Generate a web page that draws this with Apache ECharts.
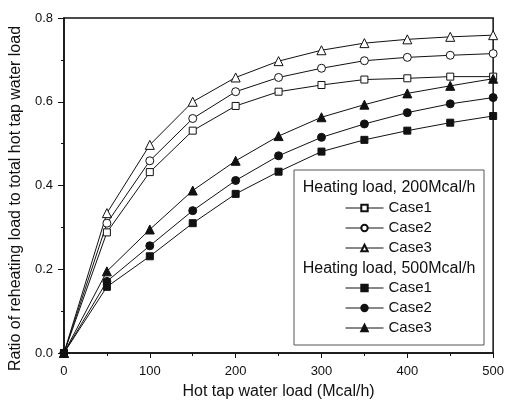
<!DOCTYPE html>
<html>
<head>
<meta charset="utf-8">
<script src="https://cdn.jsdelivr.net/npm/echarts@6/dist/echarts.min.js"></script>
<style>
  html, body { margin: 0; padding: 0; background: #fff; }
  #chart { width: 507px; height: 405px; }
</style>
</head>
<body>
<div id="chart"></div>
<script>
// hot tap water load (Mcal/h)
const loads = [0, 50, 100, 150, 200, 250, 300, 350, 400, 450, 500];

// heating load 200 Mcal/h (open markers)
const h200Case1 = [0, 0.288, 0.432, 0.531, 0.590, 0.624, 0.640, 0.653, 0.656, 0.660, 0.660];
const h200Case2 = [0, 0.310, 0.459, 0.560, 0.624, 0.658, 0.680, 0.698, 0.706, 0.711, 0.715];
const h200Case3 = [0, 0.334, 0.497, 0.600, 0.658, 0.697, 0.723, 0.740, 0.749, 0.755, 0.759];

// heating load 500 Mcal/h (filled markers)
const h500Case1 = [0, 0.158, 0.231, 0.310, 0.380, 0.433, 0.481, 0.509, 0.531, 0.550, 0.566];
const h500Case2 = [0, 0.171, 0.256, 0.340, 0.412, 0.471, 0.515, 0.547, 0.574, 0.595, 0.610];
const h500Case3 = [0, 0.195, 0.295, 0.388, 0.459, 0.518, 0.563, 0.593, 0.620, 0.638, 0.655];

const legendTitles = ['Heating load, 200Mcal/h', 'Heating load, 500Mcal/h'];
const caseNames = ['Case1', 'Case2', 'Case3'];

const ink = '#111';
const font = '"Liberation Sans", Arial, sans-serif';

function pairs(ys) {
  return loads.map((x, i) => [x, ys[i]]);
}

function mkSeries(name, ys, symbol, size, filled) {
  return {
    name: name,
    type: 'line',
    data: pairs(ys),
    symbol: symbol,
    symbolSize: size,
    showAllSymbol: true,
    lineStyle: { color: ink, width: 1 },
    itemStyle: { color: filled ? ink : '#fff', borderColor: ink, borderWidth: 1 },
    emphasis: { disabled: true },
    z: filled ? 3 : 2
  };
}

function mkLegend(top, names) {
  return {
    orient: 'vertical', left: 345, top: top, padding: 0,
    itemWidth: 38, itemHeight: 8, itemGap: 5,
    lineStyle: { width: 1 },
    textStyle: { fontSize: 15, color: ink, fontFamily: font },
    data: names,
    formatter: n => n.split(' ')[0],
    selectedMode: false
  };
}

const chart = echarts.init(document.getElementById('chart'));

const option = {
  backgroundColor: '#fff',
  animation: false,
  textStyle: { fontFamily: font },
  grid: {
    left: 62, right: 10, top: 18, bottom: 52,
    show: true, borderColor: ink, borderWidth: 1.5
  },
  xAxis: {
    type: 'value',
    min: 0, max: 500, interval: 100,
    name: 'Hot tap water load (Mcal/h)',
    nameLocation: 'middle',
    nameGap: 31,
    nameTextStyle: { fontSize: 16, color: ink, fontFamily: font },
    axisLine: { lineStyle: { color: ink, width: 1.5 } },
    axisTick: { length: 5, lineStyle: { color: ink } },
    minorTick: { show: true, splitNumber: 2, length: 3, lineStyle: { color: ink } },
    axisLabel: { fontSize: 13, color: ink, margin: 12, fontFamily: font },
    splitLine: { show: false }
  },
  yAxis: {
    type: 'value',
    min: 0, max: 0.8, interval: 0.2,
    name: 'Ratio of reheating load to total hot tap water load',
    nameLocation: 'middle',
    nameGap: 36,
    nameTextStyle: { fontSize: 16, color: ink, fontFamily: font, padding: [0, 26, 0, 0] },
    axisLine: { lineStyle: { color: ink, width: 1.5 } },
    axisTick: { length: 6, lineStyle: { color: ink } },
    minorTick: { show: true, splitNumber: 2, length: 3, lineStyle: { color: ink } },
    axisLabel: {
      fontSize: 13, color: ink, margin: 11, fontFamily: font,
      formatter: v => v.toFixed(1)
    },
    splitLine: { show: false }
  },
  legend: [
    mkLegend(200.5, caseNames.map(c => c + ' 200')),
    mkLegend(280.5, caseNames.map(c => c + ' 500'))
  ],
  graphic: [
    {
      type: 'rect', z: 1,
      shape: { x: 294, y: 170, width: 190, height: 175 },
      style: { fill: '#fff', stroke: '#555', lineWidth: 1 }
    },
    {
      type: 'text', z: 5, x: 389, y: 188,
      style: { text: legendTitles[0], fontSize: 16, fill: ink, fontFamily: font, align: 'center', verticalAlign: 'middle' }
    },
    {
      type: 'text', z: 5, x: 389, y: 269,
      style: { text: legendTitles[1], fontSize: 16, fill: ink, fontFamily: font, align: 'center', verticalAlign: 'middle' }
    }
  ],
  series: [
    mkSeries(caseNames[0] + ' 200', h200Case1, 'rect', 7, false),
    mkSeries(caseNames[1] + ' 200', h200Case2, 'circle', 8, false),
    mkSeries(caseNames[2] + ' 200', h200Case3, 'triangle', 9, false),
    mkSeries(caseNames[0] + ' 500', h500Case1, 'rect', 7, true),
    mkSeries(caseNames[1] + ' 500', h500Case2, 'circle', 8, true),
    mkSeries(caseNames[2] + ' 500', h500Case3, 'triangle', 9, true)
  ]
};

chart.setOption(option);
</script>
</body>
</html>
